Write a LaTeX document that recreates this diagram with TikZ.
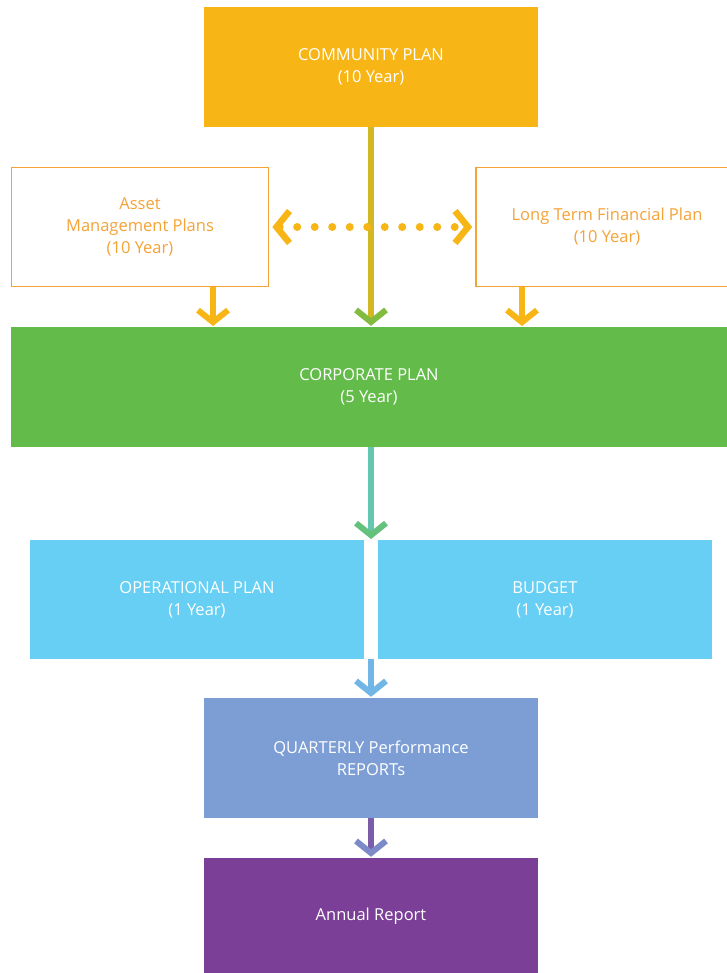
\documentclass[tikz,border=0pt]{standalone}
\usepackage{fontspec}
\setmainfont{Open Sans}
\usetikzlibrary{arrows.meta}

\definecolor{commOrange}{HTML}{F8B616}
\definecolor{lineOrange}{HTML}{F5A336}
\definecolor{corpGreen}{HTML}{63BC4A}
\definecolor{opBlue}{HTML}{66CFF3}
\definecolor{qBlue}{HTML}{7C9ED4}
\definecolor{annPurple}{HTML}{7B3F97}

\begin{document}
\begin{tikzpicture}[x=1pt,y=-1pt,>={Straight Barb[length=12pt,width=30pt,line width=6pt]},
  plan box/.style={rectangle,minimum height=120pt,align=center,text=white,font=\fontsize{16.5}{22}\selectfont,inner sep=0pt},
  side box/.style={plan box,fill=white,draw=lineOrange,line width=1.6pt,text=lineOrange,minimum height=119pt},
  flow arrow/.style={->,line width=6.5pt,shorten >=1pt}]

  \useasboundingbox (0,0) rectangle (726,973);

  \node[plan box,fill=commOrange,minimum width=334pt] (community) at (371,67) {COMMUNITY PLAN\\(10 Year)};
  \node[side box,minimum width=257pt] (asset) at (140,227) {Asset\\Management Plans\\(10 Year)};
  \node[side box,minimum width=262pt] (ltfp) at (607,227) {Long Term Financial Plan\\(10 Year)};
  \node[plan box,fill=corpGreen,minimum width=716pt] (corporate) at (369,387) {CORPORATE PLAN\\(5 Year)};
  \node[plan box,fill=opBlue,minimum width=334pt,minimum height=119pt] (operational) at (197,599.5) {OPERATIONAL PLAN\\(1 Year)};
  \node[plan box,fill=opBlue,minimum width=334pt,minimum height=119pt] (budget) at (545,599.5) {BUDGET\\(1 Year)};
  \node[plan box,fill=qBlue,minimum width=334pt] (quarterly) at (371,758) {QUARTERLY Performance\\REPORTs};
  \node[plan box,fill=annPurple,minimum width=334pt,minimum height=116pt] (annual) at (371,916) {Annual Report};

  \coordinate (split) at (371,540);

  \draw[flow arrow,draw=commOrange!75!corpGreen,>={Straight Barb[length=12pt,width=30pt,line width=6pt,color=corpGreen!80!commOrange]}]
    (community.south) -- (community.south |- corporate.north);
  \draw[flow arrow,draw=commOrange] (asset.south -| 213,0) -- (213,327);
  \draw[flow arrow,draw=commOrange] (ltfp.south -| 522,0) -- (522,327);
  \draw[<->,commOrange,line width=8pt,dash pattern=on 0pt off 17.5pt,line cap=round,
    >={Straight Barb[length=13pt,width=32pt,line width=6.5pt,line cap=butt]},shorten >=3pt,shorten <=3pt]
    (asset.east) -- (ltfp.west);
  \draw[flow arrow,draw=corpGreen!40!opBlue,>={Straight Barb[length=12pt,width=30pt,line width=6pt,color=corpGreen!70!opBlue]}]
    (corporate.south -| split) -- (split);
  \draw[flow arrow,draw=opBlue!50!qBlue] (371,659) -- (quarterly.north);
  \draw[flow arrow,draw=annPurple!70!qBlue,>={Straight Barb[length=12pt,width=30pt,line width=6pt,color=qBlue!80!annPurple]}]
    (quarterly.south) -- (annual.north);
\end{tikzpicture}
\end{document}
